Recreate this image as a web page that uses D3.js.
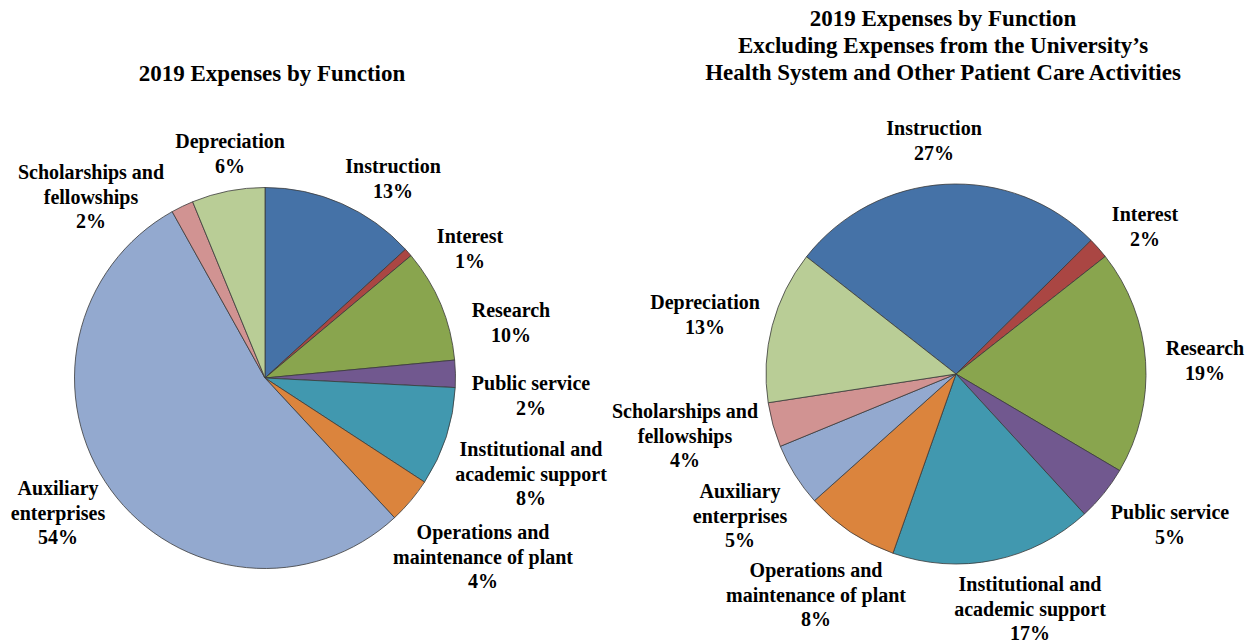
<!DOCTYPE html>
<html>
<head>
<meta charset="utf-8">
<script src="https://cdn.jsdelivr.net/npm/d3@7"></script>
<style>
  html, body { margin: 0; padding: 0; background: #fff; }
  svg { display: block; }
  text { font-family: "Liberation Serif", "Times New Roman", serif; font-weight: bold; fill: #000; }
</style>
</head>
<body>
<svg id="chart" width="1258" height="643"></svg>
<script>
// ---- data ----
const categories = [
  "Instruction", "Interest", "Research", "Public service",
  "Institutional and academic support", "Operations and maintenance of plant",
  "Auxiliary enterprises", "Scholarships and fellowships", "Depreciation"
];
const labelLines = [
  ["Instruction"], ["Interest"], ["Research"], ["Public service"],
  ["Institutional and", "academic support"], ["Operations and", "maintenance of plant"],
  ["Auxiliary", "enterprises"], ["Scholarships and", "fellowships"], ["Depreciation"]
];
const totalValues    = [13.2, 0.7, 9.6, 2.3, 8.4, 3.9, 53.8, 1.9, 6.2];
const excludedValues = [27.0, 1.8, 19.1, 4.7, 17.2, 8.0, 5.4, 3.8, 13.0];
const titleLeft  = ["2019 Expenses by Function"];
const titleRight = ["2019 Expenses by Function",
                    "Excluding Expenses from the University\u2019s",
                    "Health System and Other Patient Care Activities"];

// ---- styles / layout ----
const colors = ["#4572A7", "#AA4643", "#89A54E", "#71588F", "#4198AF",
                "#DB843D", "#93A9CF", "#D19392", "#B9CD96"];
const colorScale = d3.scaleOrdinal().domain(categories).range(colors);

// label offsets (center x, first baseline) relative to pie center
const leftLabelOffsets = [
  [128, -205], [205, -135], [246, -61], [266, 12], [266, 78],
  [218, 161], [-207, 117], [-174, -199], [-35, -230]
];
const rightLabelOffsets = [
  [-22, -239], [189, -153], [249, -19], [214, 145], [74, 217],
  [-140, 203], [-216, 124], [-271, 44], [-251, -65]
];

const svg = d3.select("#chart");

function drawPie(cfg) {
  const g = svg.append("g").attr("transform", `translate(${cfg.cx},${cfg.cy})`);
  const pie = d3.pie().sort(null)
    .startAngle(cfg.start * Math.PI / 180)
    .endAngle(cfg.start * Math.PI / 180 + 2 * Math.PI)
    .value(d => d.value);
  const arc = d3.arc().innerRadius(0).outerRadius(cfg.r);
  const data = categories.map((c, i) => ({ cat: c, value: cfg.values[i], i }));
  const arcs = pie(data);

  g.selectAll("path.slice").data(arcs).enter().append("path")
    .attr("class", "slice")
    .attr("d", arc)
    .attr("fill", d => colorScale(d.data.cat))
    .attr("stroke", "#3a3a3a")
    .attr("stroke-width", 0.8)
    .attr("stroke-linejoin", "round");

  const total = d3.sum(cfg.values);
  const lbl = g.selectAll("text.lbl").data(arcs).enter().append("text")
    .attr("class", "lbl")
    .attr("text-anchor", "middle")
    .attr("font-size", 20)
    .attr("transform", d => `translate(${cfg.offsets[d.data.i][0]},${cfg.offsets[d.data.i][1]})`);
  lbl.each(function(d) {
    const lines = labelLines[d.data.i].concat([Math.round(d.data.value / total * 100) + "%"]);
    d3.select(this).selectAll("tspan").data(lines).enter().append("tspan")
      .attr("x", 0)
      .attr("y", (t, k) => k * 24.5)
      .text(t => t);
  });

  svg.append("text")
    .attr("text-anchor", "middle")
    .attr("font-size", 23)
    .selectAll("tspan").data(cfg.title).enter().append("tspan")
    .attr("x", cfg.tx)
    .attr("y", (t, k) => cfg.ty + k * 27)
    .text(t => t);
}

drawPie({ cx: 265, cy: 378, r: 190.5, start: 0, values: totalValues,
          offsets: leftLabelOffsets, title: titleLeft, tx: 272, ty: 81 });
drawPie({ cx: 956, cy: 374, r: 190, start: -51.9, values: excludedValues,
          offsets: rightLabelOffsets, title: titleRight, tx: 943, ty: 26 });
</script>
</body>
</html>
